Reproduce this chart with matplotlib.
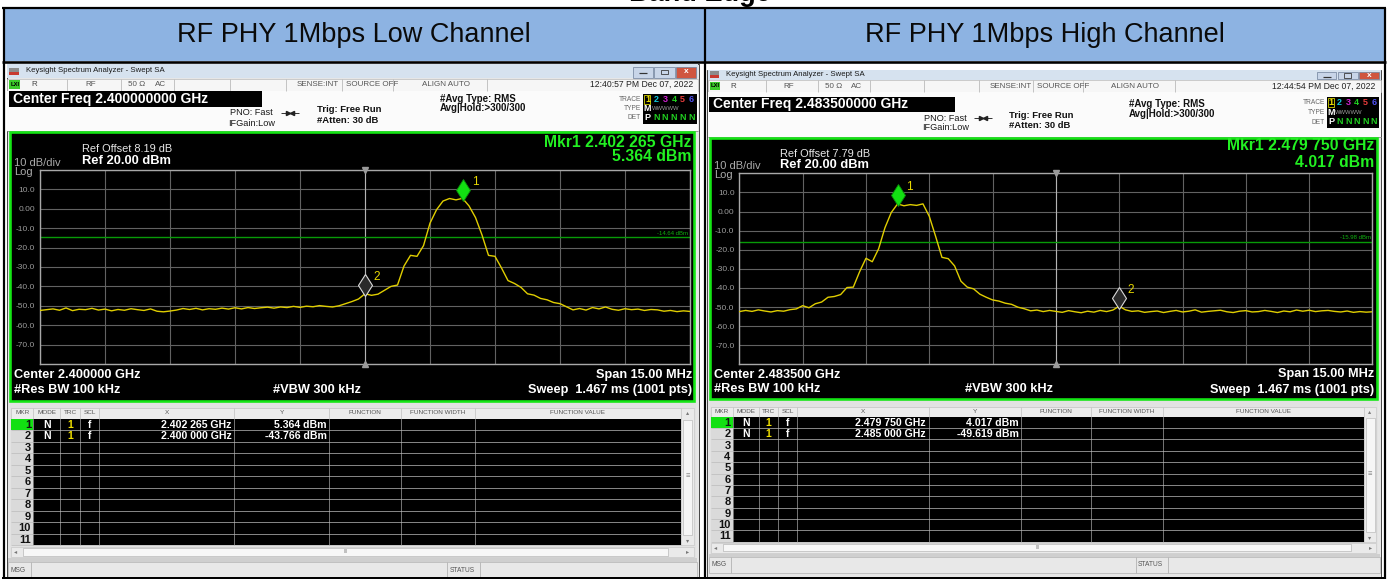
import numpy as np
import matplotlib
matplotlib.use('Agg')
import matplotlib.pyplot as plt
from matplotlib.patches import Rectangle
from matplotlib.transforms import offset_copy, blended_transform_factory

plt.rcParams['font.family'] = ['Liberation Sans', 'DejaVu Sans']

# ---------------- data ----------------
page_title = "Band Edge"
panel_titles = ["RF PHY 1Mbps Low Channel", "RF PHY 1Mbps High Channel"]
center_freqs_ghz = [2.400000, 2.483500]
span_mhz = 15.0
ref_level_dbm = 20.0
db_per_div = 10.0
ref_offsets_db = [8.19, 7.79]
display_lines_dbm = [-14.64, -15.98]
timestamps = ["12:40:57 PM Dec 07, 2022", "12:44:54 PM Dec 07, 2022"]
y_tick_labels = ["10.0", "0.00", "-10.0", "-20.0", "-30.0", "-40.0", "-50.0", "-60.0", "-70.0"]

low_marker_freqs_ghz = [2.402265, 2.400000]
low_marker_levels_dbm = [5.364, -43.766]
high_marker_freqs_ghz = [2.479750, 2.485000]
high_marker_levels_dbm = [4.017, -49.619]

low_trace_dbm = [
    -52.4, -52.0, -51.6, -52.3, -51.1, -52.5, -51.8, -52.0, -51.3, -52.2,
    -51.7, -52.6, -51.9, -52.3, -51.5, -52.0, -52.4, -51.6, -52.8, -53.1,
    -52.7, -52.2, -51.4, -51.9, -51.3, -52.1, -51.5, -51.8, -51.2, -51.7,
    -51.0, -51.6, -50.9, -51.4, -51.0, -50.7, -51.2, -50.6, -50.9, -50.3,
    -50.8, -50.2, -50.5, -49.9, -50.3, -50.6, -50.0, -48.9, -47.8, -46.5,
    -43.8, -44.6, -44.0, -42.0, -40.0, -39.3, -29.5, -24.0, -24.5, -19.0,
    -7.4, -0.5, 4.0, 5.3, 4.6, 5.4, 1.5, -4.5, -13.5, -24.0,
    -24.5, -30.5, -37.0, -38.5, -40.5, -43.8, -44.5, -46.2, -46.9, -48.3,
    -48.9, -50.5, -52.1, -51.4, -52.2, -50.9, -51.6, -50.6, -51.8, -52.3,
    -51.5, -52.0, -51.7, -52.4, -51.9, -52.1, -52.8, -52.4, -53.0, -52.6, -52.9,
]
high_trace_dbm = [
    -52.4, -51.8, -52.3, -51.5, -52.1, -52.6, -51.9, -52.2, -51.4, -51.0,
    -49.3, -50.4, -48.3, -47.4, -44.9, -44.5, -43.5, -39.8, -39.6, -31.5,
    -24.5, -26.3, -19.5, -8.5, -0.5, 4.0, 3.0, 3.6, 3.2, 4.0,
    -2.5, -13.0, -24.0, -24.7, -28.5, -36.5, -39.6, -40.5, -43.3, -44.9,
    -46.3, -46.9, -48.0, -48.6, -50.1, -50.9, -52.0, -51.6, -52.4, -51.8,
    -52.3, -52.8, -51.9, -52.5, -53.0, -52.2, -52.7, -51.8, -52.4, -51.6,
    -49.6, -51.5, -52.3, -52.0, -52.8, -52.4, -52.1, -52.9, -52.3, -51.8,
    -52.6, -52.2, -51.5, -52.7, -52.3, -52.0, -51.7, -52.5, -52.9, -52.2,
    -51.9, -52.6, -52.4, -51.8, -52.3, -52.9, -52.1, -52.5, -51.6, -52.2,
    -51.7, -52.4, -52.0, -51.8, -52.3, -52.6, -52.1, -52.8, -52.4, -52.7, -52.5,
]
traces = [low_trace_dbm, high_trace_dbm]
marker_freqs = [low_marker_freqs_ghz, high_marker_freqs_ghz]
marker_levels = [low_marker_levels_dbm, high_marker_levels_dbm]

# ---------------- layout (pixels) ----------------
W, H = 1388, 579
GEOM = [
    dict(x0=7.0, sx=1.0, win_top=63.5, win_bot=578.5, tb=(64, 78), st=(78.5, 91), cf=(91.3, 107.3),
         set_bot=130.5, green=(131.5, 400.5), grid=(170, 364), refoff=149, ref=161, dbdiv=162.7,
         log=171.7, mk1=142.7, mk2=156.7, cen=375, rbw=390, th=(407.5, 418.5), rows_bot=545,
         hs=(546.5, 557), msg=(562, 578), pno=112.7, ifg=123.3, trig=110, att=120.7, avg=99,
         hold=108.3, trace=99.3, type=108.3, det=117.3, box=(94, 123.5)),
    dict(x0=707.2, sx=0.974, win_top=69.5, win_bot=576.5, tb=(69.5, 79.5), st=(80, 92), cf=(96.5, 112),
         set_bot=136.5, green=(137.5, 398.5), grid=(173.3, 364.3), refoff=154, ref=165, dbdiv=166,
         log=175, mk1=146, mk2=162.3, cen=374.5, rbw=389.5, th=(406.7, 416.7), rows_bot=541.7,
         hs=(542.5, 552.5), msg=(556.7, 573.3), pno=118.3, ifg=127.7, trig=115, att=125.7, avg=104,
         hold=114, trace=102.7, type=112.7, det=122, box=(97, 128)),
]

fig = plt.figure(figsize=(W / 100, H / 100), dpi=100)
fig.patch.set_facecolor('white')
bg = fig.add_axes([0, 0, 1, 1])
bg.set_xlim(0, W)
bg.set_ylim(H, 0)
bg.axis('off')

PX = 0.72  # points per pixel


def rect(x0, y0, x1, y1, fc, ec='none', lw=0.0, z=1):
    bg.add_patch(Rectangle((x0, y0), x1 - x0, y1 - y0, facecolor=fc, edgecolor=ec,
                           linewidth=lw * PX, zorder=z))


def line(xs, ys, c, lw=1.0, z=2):
    bg.plot(xs, ys, color=c, lw=lw * PX, zorder=z, solid_capstyle='butt')


def text(x, y, s, size, c='black', weight='normal', ha='left', va='center', z=5):
    bg.text(x, y, s, fontsize=size, color=c, fontweight=weight, ha=ha, va=va, zorder=z)


def fmt_freq(f):
    s = f"{f:.6f}"
    return s[:5] + ' ' + s[5:] + ' GHz'


# ---------------- outer table ----------------
# page title sits mostly above the crop, as in the original screenshot
text(700, 1.2, page_title, 19.5, 'black', 'bold', ha='center', va='baseline')
rect(5, 9.3, 704, 61, '#8DB3E2')
rect(706.5, 9.3, 1384.5, 61, '#8DB3E2')
text(354, 35.5, panel_titles[0], 19.5, '#0A0A0A', ha='center')
text(1045, 35.5, panel_titles[1], 19.5, '#0A0A0A', ha='center')
line([2.5, 1386.5], [8.3, 8.3], 'black', 2.2, z=6)
line([2.5, 1386.5], [62.0, 62.0], 'black', 2.6, z=6)
line([2.5, 1386.5], [578.2, 578.2], 'black', 2.0, z=6)
for xv in [3.8, 705.2, 1385.5]:
    line([xv, xv], [7.5, 579], 'black', 2.2, z=6)


def draw_panel(k):
    g = GEOM[k]

    def X(x):
        return g['x0'] + (x - 7.0) * g['sx']

    mid = lambda p: 0.5 * (p[0] + p[1])
    cfreq = center_freqs_ghz[k]

    # window
    rect(X(7), g['win_top'], X(699), g['win_bot'], '#E6E6E6', ec='#4A4A4A', lw=1.0)
    # title bar
    rect(X(7.5), g['tb'][0], X(698.5), g['tb'][1], '#D6E2EF')
    ty = mid(g['tb'])
    rect(X(9.5), ty - 3.5, X(19.5), ty + 3.5, '#8C8C8C')
    rect(X(9.5), ty + 0.5, X(19.5), ty + 3.5, '#C83A30')
    text(X(26.5), ty, 'Keysight Spectrum Analyzer - Swept SA', 5.6, '#1A1A1A')
    for a, b, c in [(633, 653, '#C8D5E8'), (654.5, 675, '#C8D5E8'), (676.5, 696.5, '#D0553F')]:
        rect(X(a), g['tb'][0] + 2.5, X(b), g['tb'][1] - 0.5, c, ec='#6E7F99', lw=0.7, z=2)
    line([X(639), X(647)], [ty + 2.2, ty + 2.2], '#333333', 1.2, z=3)
    rect(X(661), ty - 1.5, X(668), ty + 3, 'none', ec='#333333', lw=0.8, z=3)
    text(X(686.5), ty + 0.8, 'x', 6, 'white', 'bold', ha='center', z=3)

    # status row
    s0, s1 = g['st']
    sy = mid(g['st'])
    rect(X(7.5), s0, X(698.5), s1, '#F6F6F6', ec='#B4B4B4', lw=0.6)
    for dx in [67, 121, 174.5, 230, 286, 342, 393, 487]:
        line([X(dx), X(dx)], [s0, s1], '#B8B8B8', 0.8)
    rect(X(9.5), s0 + 1.5, X(20.5), s1 - 2.0, '#3CCB2A', z=2)
    text(X(15), sy - 0.2, 'LXI', 4.2, 'black', 'bold', ha='center')
    text(X(31), sy, 'R', 5.8, '#444444')
    text(X(91), sy, 'RF', 5.8, '#555555', ha='center')
    text(X(128), sy, '50 \u03a9', 5.8, '#555555')
    text(X(155), sy, 'AC', 5.8, '#555555')
    text(X(297), sy, 'SENSE:INT', 5.8, '#555555')
    text(X(346), sy, 'SOURCE OFF', 5.8, '#555555')
    text(X(422), sy, 'ALIGN AUTO', 5.8, '#555555')
    text(X(693), sy, timestamps[k], 6.2, '#222222', ha='right')

    # settings area
    rect(X(7.5), s1, X(698.5), g['set_bot'], '#FBFBFB')
    rect(X(9), g['cf'][0], X(261.7), g['cf'][1], 'black', z=2)
    text(X(13), mid(g['cf']), f"Center Freq {cfreq:.9f} GHz", 10, 'white', 'bold', z=3)
    text(X(251.5), g['pno'], 'PNO: Fast', 6.6, '#1A1A1A', ha='center')
    text(X(252), g['ifg'], 'IFGain:Low', 6.6, '#1A1A1A', ha='center')
    line([X(281), X(299)], [g['pno'], g['pno']], '#222222', 0.9)
    bg.plot([X(288.5)], [g['pno']], marker='>', ms=3, color='#222222', zorder=3)
    bg.plot([X(292)], [g['pno']], marker='<', ms=3, color='#222222', zorder=3)
    text(X(317), g['trig'], 'Trig: Free Run', 6.8, '#111111', 'bold')
    text(X(317), g['att'], '#Atten: 30 dB', 6.8, '#111111', 'bold')
    text(X(440), g['avg'], '#Avg Type: RMS', 7.0, '#111111', 'bold')
    text(X(440), g['hold'], 'Avg|Hold:>300/300', 7.0, '#111111', 'bold')
    text(X(641), g['trace'], 'TRACE', 4.8, '#666666', ha='right')
    text(X(641), g['type'], 'TYPE', 4.8, '#666666', ha='right')
    text(X(641), g['det'], 'DET', 4.8, '#666666', ha='right')
    b0, b1 = g['box']
    rect(X(643.5), b0, X(697), b1, 'black', z=2)
    digit_x = [647.5, 656.3, 665.1, 673.9, 682.7, 691.5]
    digit_c = ['#F0E000', '#10C8D8', '#D020D0', '#20D020', '#E83C3C', '#5050F0']
    for i in range(6):
        text(X(digit_x[i]), g['trace'], str(i + 1), 6.5, digit_c[i], 'bold', ha='center', z=3)
    rect(X(644.5), g['trace'] - 4.5, X(650.5), g['trace'] + 4.5, 'none', ec='#E0E000', lw=0.8, z=3)
    text(X(647.5), g['type'], 'M', 6.5, 'white', 'bold', ha='center', z=3)
    text(X(652), g['type'], 'WWWWW', 4.2, '#9A9A9A', z=3)
    text(X(647.5), g['det'], 'P', 6.5, 'white', 'bold', ha='center', z=3)
    for i in range(1, 6):
        text(X(digit_x[i]), g['det'], 'N', 6.5, '#20D020', 'bold', ha='center', z=3)
    line([X(7.5), X(698.5)], [g['set_bot'], g['set_bot']], '#9A9A9A', 1.0)

    # graph frame
    g0, g1 = g['green']
    rect(X(10), g0, X(694.5), g1, 'black', ec='#14E614', lw=2.6, z=2)
    text(X(82), g['refoff'], f"Ref Offset {ref_offsets_db[k]:.2f} dB", 7.9, '#E6E6E6', z=3)
    text(X(82), g['ref'], f"Ref {ref_level_dbm:.2f} dBm", 9.3, 'white', 'bold', z=3)
    text(X(14), g['dbdiv'], f"{db_per_div:.0f} dB/div", 8.0, '#AAAAAA', z=3)
    text(X(14), g['log'], 'Log', 8.0, '#AAAAAA', z=3)
    mf, ml = marker_freqs[k], marker_levels[k]
    text(X(692), g['mk1'], f"Mkr1 {fmt_freq(mf[0])}", 11.3, '#22F022', 'bold', ha='right', z=3)
    text(X(692), g['mk2'], f"{ml[0]:.3f} dBm", 11.3, '#22F022', 'bold', ha='right', z=3)
    text(X(14), g['cen'], f"Center {cfreq:.6f} GHz", 9.2, 'white', 'bold', z=3)
    text(X(14), g['rbw'], '#Res BW 100 kHz', 9.2, 'white', 'bold', z=3)
    text(X(317), g['rbw'], '#VBW 300 kHz', 9.2, 'white', 'bold', ha='center', z=3)
    text(X(692), g['cen'], f"Span {span_mhz:.2f} MHz", 9.2, 'white', 'bold', ha='right', z=3)
    text(X(692), g['rbw'], 'Sweep  1.467 ms (1001 pts)', 9.2, 'white', 'bold', ha='right', z=3)

    # spectrum plot
    gy0, gy1 = g['grid']
    ax = fig.add_axes([X(40) / W, 1 - gy1 / H, (X(690) - X(40)) / W, (gy1 - gy0) / H], zorder=3)
    ax.set_facecolor('black')
    half = span_mhz / 2000.0
    f0, f1 = cfreq - half, cfreq + half
    ax.set_xlim(f0, f1)
    ax.set_ylim(ref_level_dbm - 10 * db_per_div, ref_level_dbm)
    ax.set_xticks(np.linspace(f0, f1, 11))
    ax.set_xticklabels([''] * 11)
    yt = [ref_level_dbm - db_per_div * i for i in range(11)]
    ax.set_yticks(yt)
    ax.set_yticklabels([''] + y_tick_labels + [''])
    ax.tick_params(length=0, labelsize=6.0, labelcolor='#9C9C9C', pad=3.5)
    ax.grid(True, color='#626262', lw=0.8)
    for sp in ax.spines.values():
        sp.set_color('#A8A8A8')
        sp.set_linewidth(1.0)
    ax.axvline(cfreq, color='#B4B4B4', lw=0.8)
    ax.plot([cfreq], [ref_level_dbm], marker='v', ms=5, color='#9A9A9A', clip_on=False, zorder=6)
    ax.plot([cfreq], [ref_level_dbm - 10 * db_per_div], marker='^', ms=5, color='#9A9A9A',
            clip_on=False, zorder=6)
    dl = display_lines_dbm[k]
    ax.axhline(dl, color='#089A08', lw=1.0)
    tr = blended_transform_factory(ax.transAxes, ax.transData)
    ax.text(0.997, dl + 0.8, f"{dl:.2f} dBm", transform=tr, fontsize=4.3, color='#10B010',
            ha='right', va='bottom')
    trace = traces[k]
    freqs = np.linspace(f0, f1, len(trace))
    ax.plot(freqs, trace, color='#E0CE00', lw=1.0, zorder=4)
    up = offset_copy(ax.transData, fig=fig, x=0, y=8.5, units='dots')
    ax.plot([mf[0]], [ml[0]], marker='d', ms=11.5, mfc='#12E012', mec='#0A8A0A', mew=0.6,
            transform=up, zorder=7, clip_on=False)
    ax.plot([mf[1]], [ml[1]], marker='d', ms=11.5, mfc='#2A2A2A', mec='#DADADA', mew=0.8,
            transform=up, zorder=7, clip_on=False)
    for j in range(2):
        ax.annotate(str(j + 1), xy=(mf[j], ml[j]), xytext=(8.5, 16.5), textcoords='offset pixels',
                    fontsize=8.5, color='#E8D800', ha='left', va='center', zorder=8)

    # marker table
    h0, h1 = g['th']
    rb = g['rows_bot']
    rect(X(10), g1 + 1.5, X(696), g['hs'][1] + 1, '#E2E2E2')
    rect(X(11), h0, X(681), h1, '#ECECEC', ec='#BDBDBD', lw=0.6, z=2)
    rect(X(11), h1, X(681), rb, 'black', z=2)
    cols = [11, 33.3, 60, 80, 99.3, 234.3, 329, 401, 475, 681]
    for cx in cols[1:-1]:
        line([X(cx), X(cx)], [h0, h1], '#C4C4C4', 0.8, z=3)
        line([X(cx), X(cx)], [h1, rb], '#8E8E8E', 0.8, z=3)
    heads = ['MKR', 'MODE', 'TRC', 'SCL', 'X', 'Y', 'FUNCTION', 'FUNCTION WIDTH', 'FUNCTION VALUE']
    for i, hd in enumerate(heads):
        text(X(0.5 * (cols[i] + cols[i + 1])), mid(g['th']), hd, 4.6, '#555555', ha='center', z=4)
    nrow = 11
    rh = (rb - h1) / nrow
    for r in range(nrow):
        ry0 = h1 + r * rh
        ry = ry0 + rh / 2
        rect(X(11), ry0, X(33.3), ry0 + rh, '#12E012' if r == 0 else '#DADADA', z=3)
        line([X(11), X(681)], [ry0 + rh, ry0 + rh], '#BCBCBC', 0.7, z=4)
        text(X(31), ry + 0.4, str(r + 1), 8.0, '#111111', 'bold', ha='right', z=5)
    for r in range(2):
        ry = h1 + r * rh + rh / 2 + 0.4
        text(X(46.7), ry, 'N', 7.5, 'white', 'bold', ha='center', z=5)
        text(X(70), ry, '1', 7.5, '#F0E000', 'bold', ha='center', z=5)
        text(X(89.7), ry, 'f', 7.5, 'white', 'bold', ha='center', z=5)
        text(X(231.5), ry, fmt_freq(mf[r]), 7.6, 'white', 'bold', ha='right', z=5)
        text(X(327), ry, f"{ml[r]:.3f} dBm", 7.6, 'white', 'bold', ha='right', z=5)
    # vertical scrollbar
    rect(X(681), h0, X(694), rb, '#EAEAEA', ec='#C4C4C4', lw=0.6, z=2)
    rect(X(683), h1 + 1, X(692.5), rb - 10, '#F6F6F6', ec='#B4B4B4', lw=0.6, z=3)
    text(X(687.5), mid(g['th']), '\u25b4', 4.5, '#777777', ha='center', z=4)
    text(X(687.5), 0.5 * (h1 + rb) - 5, '\u2261', 5.5, '#888888', ha='center', z=4)
    text(X(687.5), rb - 4, '\u25be', 4.5, '#777777', ha='center', z=4)
    # horizontal scrollbar
    hs0, hs1 = g['hs']
    rect(X(11), hs0, X(694), hs1, '#EAEAEA', ec='#C4C4C4', lw=0.6, z=2)
    rect(X(23), hs0 + 1.5, X(668), hs1 - 1.5, '#F7F7F7', ec='#B0B0B0', lw=0.6, z=3)
    text(X(16), mid(g['hs']), '\u25c2', 4.5, '#777777', ha='center', z=4)
    text(X(688), mid(g['hs']), '\u25b8', 4.5, '#777777', ha='center', z=4)
    text(X(346), mid(g['hs']), 'III', 3.8, '#888888', ha='center', z=4)
    # message bar
    m0, m1 = g['msg']
    rect(X(8.5), hs1 + 1, X(697.5), m0, '#CFCFCF')
    rect(X(8.5), m0, X(697.5), m1, '#E8E8E8', ec='#A8A8A8', lw=0.6, z=2)
    line([X(31), X(31)], [m0, m1], '#B0B0B0', 0.8, z=3)
    line([X(447), X(447)], [m0, m1], '#B0B0B0', 0.8, z=3)
    line([X(480), X(480)], [m0, m1], '#B0B0B0', 0.8, z=3)
    text(X(11), mid(g['msg']), 'MSG', 4.8, '#555555', z=4)
    text(X(449.5), mid(g['msg']), 'STATUS', 4.8, '#555555', z=4)


draw_panel(0)
draw_panel(1)

fig.savefig('out.png', dpi=100, facecolor='white')
